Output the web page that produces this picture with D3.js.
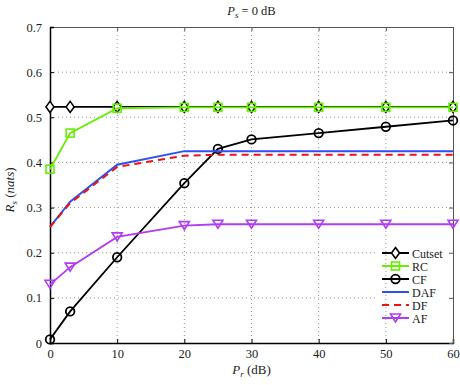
<!DOCTYPE html>
<html>
<head>
<meta charset="utf-8">
<script src="https://cdn.jsdelivr.net/npm/d3@7"></script>
<style>
body { margin: 0; background: #fff; }
text { font-family: "Liberation Serif", "DejaVu Serif", serif; fill: #222; }
</style>
</head>
<body>
<div id="wrapper"></div>
<script>
// chart values
const xValues = [0, 3, 10, 20, 25, 30, 40, 50, 60];
const cutset = [0.523, 0.523, 0.523, 0.523, 0.523, 0.523, 0.523, 0.523, 0.523];
const rc     = [0.385, 0.465, 0.520, 0.522, 0.522, 0.522, 0.522, 0.522, 0.522];
const cf     = [0.008, 0.070, 0.190, 0.354, 0.430, 0.451, 0.465, 0.479, 0.493];
const daf    = [0.257, 0.313, 0.395, 0.425, 0.425, 0.425, 0.425, 0.425, 0.425];
const df     = [0.257, 0.310, 0.390, 0.415, 0.417, 0.417, 0.417, 0.417, 0.417];
const af     = [0.130, 0.168, 0.235, 0.260, 0.263, 0.263, 0.263, 0.263, 0.263];
const xTicks = [0, 10, 20, 30, 40, 50, 60];
const yTicks = [0, 0.1, 0.2, 0.3, 0.4, 0.5, 0.6, 0.7];

const series = [
    {name: "Cutset", values: cutset, color: "#000", marker: "diamond", dash: null},
    {name: "RC", values: rc, color: "#66f000", marker: "square", dash: null},
    {name: "CF", values: cf, color: "#000", marker: "circle", dash: null},
    {name: "DAF", values: daf, color: "#2f4ff5", marker: null, dash: null},
    {name: "DF", values: df, color: "#ee1111", marker: null, dash: "7,5"},
    {name: "AF", values: af, color: "#b03cf5", marker: "triangle", dash: null}
];

const dim = {width: 460, height: 385, margin: {top: 27, right: 7, bottom: 42, left: 50}};
dim.w = dim.width - dim.margin.left - dim.margin.right;
dim.h = dim.height - dim.margin.top - dim.margin.bottom;

const svg = d3.select("#wrapper").append("svg")
    .attr("width", dim.width)
    .attr("height", dim.height);

const g = svg.append("g")
    .attr("transform", `translate(${dim.margin.left},${dim.margin.top})`);

const x = d3.scaleLinear().domain([0, 60]).range([0, dim.w]);
const y = d3.scaleLinear().domain([0, 0.7]).range([dim.h, 0]);

// horizontal grid
g.append("g").selectAll("line").data(yTicks.slice(1, -1)).enter().append("line")
    .attr("x1", 0).attr("x2", dim.w)
    .attr("y1", d => y(d)).attr("y2", d => y(d))
    .attr("stroke", "#999").attr("stroke-width", 1).attr("stroke-dasharray", "1,3");

// legend background (hides horizontal grid)
const leg = {x: 328, y: 218, w: 75, h: 80};
g.append("rect")
    .attr("x", leg.x).attr("y", leg.y).attr("width", leg.w).attr("height", leg.h)
    .attr("fill", "#fff");

// vertical grid
g.append("g").selectAll("line").data(xTicks.slice(1, -1)).enter().append("line")
    .attr("y1", 0).attr("y2", dim.h)
    .attr("x1", d => x(d)).attr("x2", d => x(d))
    .attr("stroke", "#999").attr("stroke-width", 1).attr("stroke-dasharray", "1,3");

// axes
const xAxis = g.append("g").attr("transform", `translate(0,${dim.h})`)
    .call(d3.axisBottom(x).tickValues(xTicks).tickSize(-4).tickPadding(6));
const xTop = g.append("g")
    .call(d3.axisTop(x).tickValues(xTicks).tickSize(-4).tickFormat(""));
const yAxis = g.append("g")
    .call(d3.axisLeft(y).tickValues(yTicks).tickSize(-4).tickPadding(8)
        .tickFormat(d => d === 0 ? "0" : d3.format(".1f")(d)));
const yRight = g.append("g").attr("transform", `translate(${dim.w},0)`)
    .call(d3.axisRight(y).tickValues(yTicks).tickSize(-4).tickFormat(""));

[xAxis, yAxis].forEach(a => {
    a.select(".domain").attr("stroke", "#000").attr("stroke-width", 1.5);
    a.selectAll(".tick line").attr("stroke", "#000");
    a.selectAll("text").style("font-size", "12.5px").attr("fill", "#222");
});
[xTop, yRight].forEach(a => {
    a.select(".domain").attr("stroke", "#555").attr("stroke-width", 1);
    a.selectAll(".tick line").attr("stroke", "#555");
});

// marker drawing
function drawMarker(sel, type, color) {
    if (type === "diamond") {
        sel.append("path").attr("d", "M0,-5.5L4,0L0,5.5L-4,0Z")
            .attr("fill", "#fff").attr("stroke", color).attr("stroke-width", 1.6);
    } else if (type === "square") {
        sel.append("rect").attr("x", -4).attr("y", -4).attr("width", 8).attr("height", 8)
            .attr("fill", "none").attr("stroke", color).attr("stroke-width", 1.6);
    } else if (type === "circle") {
        sel.append("circle").attr("r", 4.3)
            .attr("fill", "none").attr("stroke", color).attr("stroke-width", 1.8);
    } else if (type === "triangle") {
        sel.append("path").attr("d", "M-5,-4L5,-4L0,4Z")
            .attr("fill", "none").attr("stroke", color).attr("stroke-width", 1.6);
    }
}

const line = d3.line().x(d => x(d[0])).y(d => y(d[1]));

series.forEach(s => {
    const pts = xValues.map((v, i) => [v, s.values[i]]);
    g.append("path")
        .datum(pts)
        .attr("d", line)
        .attr("fill", "none")
        .attr("stroke", s.color)
        .attr("stroke-width", s.name === "DF" || s.name === "DAF" ? 2 : 1.8)
        .attr("stroke-dasharray", s.dash);
    if (s.marker) {
        g.append("g").selectAll("g").data(pts).enter().append("g")
            .attr("transform", d => `translate(${x(d[0])},${y(d[1])})`)
            .each(function() { drawMarker(d3.select(this), s.marker, s.color); });
    }
});

// legend
const legend = g.append("g").attr("transform", `translate(${leg.x},${leg.y})`);
series.forEach((s, i) => {
    const row = legend.append("g").attr("transform", `translate(0,${8 + i * 13})`);
    row.append("line")
        .attr("x1", 4).attr("x2", 31).attr("y1", 0).attr("y2", 0)
        .attr("stroke", s.color).attr("stroke-width", 2)
        .attr("stroke-dasharray", s.dash);
    if (s.marker) {
        const m = row.append("g").attr("transform", "translate(17.5,0)");
        drawMarker(m, s.marker, s.color);
    }
    row.append("text").attr("x", 34).attr("y", 4.5)
        .style("font-size", "12px").text(s.name);
});

// title
const title = svg.append("text")
    .attr("x", dim.margin.left + dim.w / 2).attr("y", 15)
    .attr("text-anchor", "middle").style("font-size", "12.5px");
title.append("tspan").style("font-style", "italic").text("P");
title.append("tspan").attr("dy", 3).style("font-size", "9px").style("font-style", "italic").text("s");
title.append("tspan").attr("dy", -3).text(" = 0 dB");

// x label
const xl = svg.append("text")
    .attr("x", dim.margin.left + dim.w / 2).attr("y", 374)
    .attr("text-anchor", "middle").style("font-size", "13px");
xl.append("tspan").style("font-style", "italic").text("P");
xl.append("tspan").attr("dy", 3).style("font-size", "9px").style("font-style", "italic").text("r");
xl.append("tspan").attr("dy", -3).text(" (dB)");

// y label
const yl = svg.append("text")
    .attr("transform", `translate(14,${dim.margin.top + dim.h / 2 + 5}) rotate(-90)`)
    .attr("text-anchor", "middle").style("font-size", "13px");
yl.append("tspan").style("font-style", "italic").text("R");
yl.append("tspan").attr("dy", 3).style("font-size", "9px").style("font-style", "italic").text("s");
yl.append("tspan").attr("dy", -3).text(" (");
yl.append("tspan").style("font-style", "italic").text("nats");
yl.append("tspan").text(")");
</script>
</body>
</html>
